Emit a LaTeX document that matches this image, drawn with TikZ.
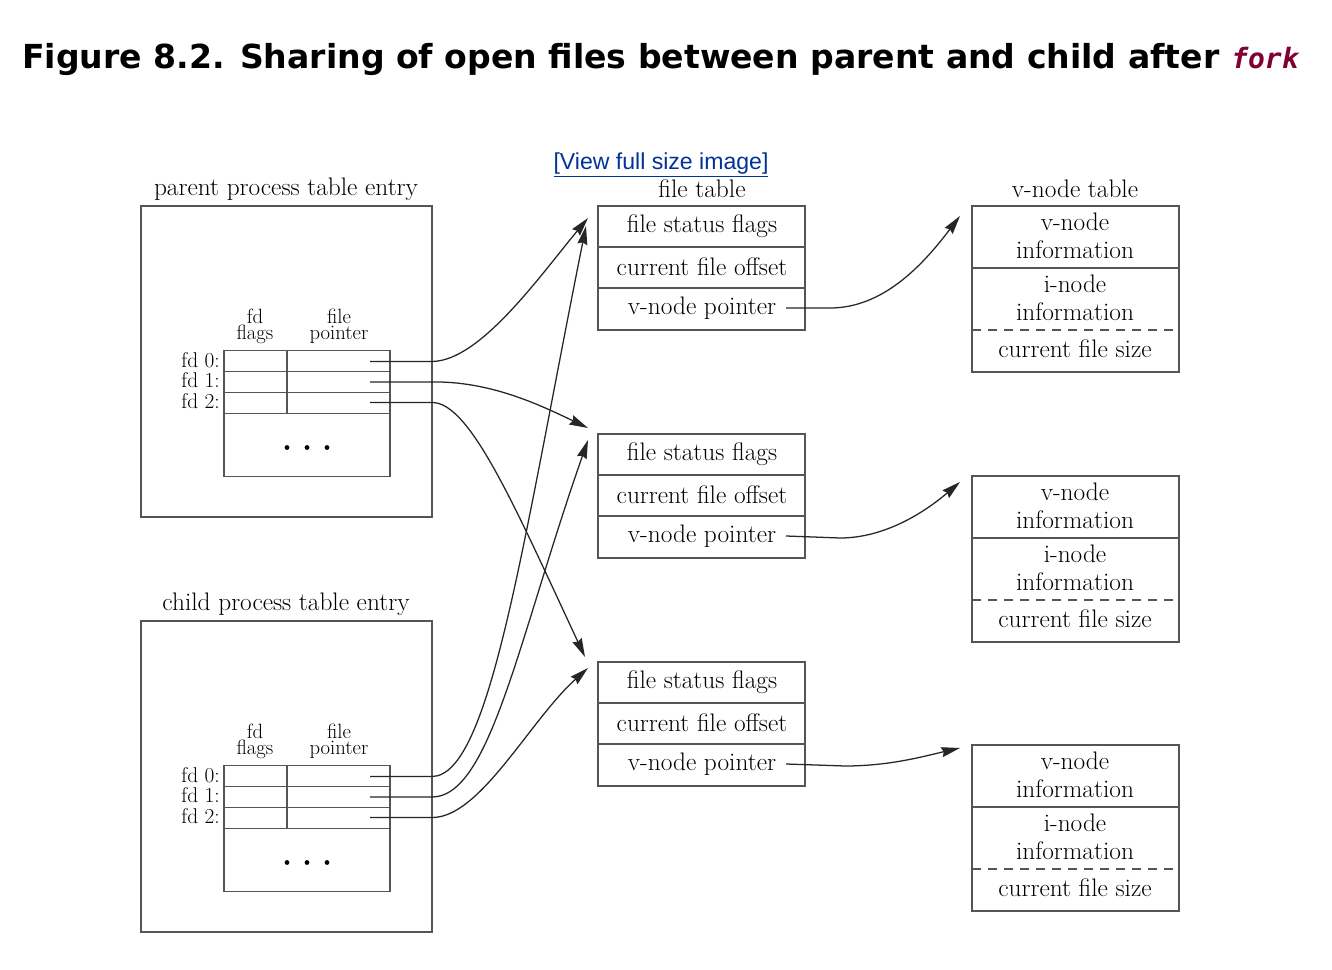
\documentclass[tikz,border=0pt]{standalone}
\usepackage{fontspec}
\newfontfamily\titlefont{DejaVu Sans}
\newfontfamily\forkfont{DejaVu Sans Mono}
\newfontfamily\linkfont{Liberation Sans}
\usetikzlibrary{arrows.meta}
\definecolor{forkred}{RGB}{128,0,51}
\definecolor{linkblue}{RGB}{0,51,153}
\definecolor{ln}{RGB}{85,85,85}
\tikzset{
  box/.style={draw=ln, line width=1.4pt},
  txt/.style={font=\fontsize{19}{21}\selectfont, inner sep=0pt, align=center},
  hdr/.style={font=\fontsize{15.5}{11}\selectfont, inner sep=0pt, anchor=base},
  fdl/.style={font=\fontsize{16}{11}\selectfont, inner sep=0pt, anchor=base east},
  ptr/.style={draw=black!85, line width=0.95pt, -{Stealth[length=14pt,width=7.5pt,inset=1.5pt]}}
}
\newcommand\ftable[2]{%
  \draw[box] (598,#2) rectangle (805,#2+124);
  \draw[box] (598,#2+41) -- (805,#2+41);
  \draw[box] (598,#2+82) -- (805,#2+82);
  \node[txt] (#1a) at (702,#2+20) {file status flags};
  \node[txt] (#1b) at (702,#2+61) {current file offset};
  \node[txt] (#1c) at (702,#2+102) {v-node pointer};
  \coordinate (#1s) at (786,#2+102);
}
\newcommand\vtable[2]{%
  \draw[box] (972,#2) rectangle (1179,#2+166);
  \draw[box] (972,#2+62) -- (1179,#2+62);
  \draw[box,dash pattern=on 7pt off 5pt] (972,#2+124) -- (1179,#2+124);
  \node[txt] (#1a) at (1075,#2+30) {v-node\\information};
  \node[txt] (#1b) at (1075,#2+92) {i-node\\information};
  \node[txt] (#1c) at (1075,#2+143) {current file size};
}
\newcommand\proctable[3]{%
  \draw[box] (141,#2) rectangle (432,#2+311);
  \node[txt] (#1lab) at (286,#2-17) {#3};
  \pgfmathsetmacro\tt{#2+144.5}
  \draw[box] (224,\tt) rectangle (390,\tt+126);
  \draw[box] (224,\tt+21) -- (390,\tt+21);
  \draw[box] (224,\tt+42) -- (390,\tt+42);
  \draw[box] (224,\tt+63) -- (390,\tt+63);
  \draw[box] (287,\tt) -- (287,\tt+63);
  \foreach \dx in {287,307,327} \fill (\dx,\tt+97) circle (2.4);
  \node[hdr] (#1hf1) at (255,\tt-27.5) {fd};
  \node[hdr] (#1hf2) at (255,\tt-11) {flags};
  \node[hdr] (#1hp1) at (339,\tt-27.5) {file};
  \node[hdr] (#1hp2) at (339,\tt-11) {pointer};
  \node[fdl] (#1l0) at (220,\tt+16.5) {fd 0:};
  \node[fdl] (#1l1) at (220,\tt+37) {fd 1:};
  \node[fdl] (#1l2) at (220,\tt+57.5) {fd 2:};
  \coordinate (#1s0) at (370,\tt+11);
  \coordinate (#1s1) at (370,\tt+31.5);
  \coordinate (#1s2) at (370,\tt+52);
  \coordinate (#1e0) at (432,\tt+11);
  \coordinate (#1e1) at (432,\tt+31.5);
  \coordinate (#1e2) at (432,\tt+52);
}
\begin{document}
\begin{tikzpicture}[x=0.75pt,y=-0.75pt]
\useasboundingbox (0,0) rectangle (1332,970);
\fill[white] (0,0) rectangle (1332,970);
% title
\node[anchor=base west, inner sep=0pt, font=\titlefont\bfseries\fontsize{24.8}{28}\selectfont] (title) at (22,69)
  {Figure 8.2. Sharing of open files between parent and child after};
\node[anchor=base west, inner sep=0pt, font=\forkfont\bfseries\itshape\fontsize{21}{24}\selectfont, text=forkred] (fork) at (1231,69) {fork};
% link
\node[inner sep=0pt, font=\linkfont\fontsize{17.3}{20}\selectfont, text=linkblue] (link) at (661,165) {\underline{[View full size image]}};
% column labels
\node[txt] (ftlab) at (702,189) {file table};
\node[txt] (vtlab) at (1075,189) {v-node table};
% process tables
\proctable{P}{206}{parent process table entry}
\proctable{C}{621}{child process table entry}
% file tables
\ftable{F1}{206}
\ftable{F2}{434}
\ftable{F3}{662}
% v-node tables
\vtable{V1}{206}
\vtable{V2}{476}
\vtable{V3}{745}
% arrow targets
\coordinate (tA) at (588,218);
\coordinate (tB) at (586,226);
\coordinate (tC) at (588,428);
\coordinate (tD) at (588,440);
\coordinate (tE) at (585,657);
\coordinate (tF) at (588,668);
\coordinate (tV1) at (960,216);
\coordinate (tV2) at (960,482);
\coordinate (tV3) at (960,748);
% parent pointers
\draw[ptr] (Ps0) -- (Pe0) .. controls (480,361) and (539,277) .. (tA);
\draw[ptr] (Ps1) -- (Pe1) .. controls (490,381) and (540,405) .. (tC);
\draw[ptr] (Ps2) -- (Pe2) .. controls (470,402) and (515,507) .. (tE);
% child pointers
\draw[ptr] (Cs0) -- (Ce0) .. controls (490,776) and (522,546) .. (tB);
\draw[ptr] (Cs1) -- (Ce1) .. controls (490,797) and (518,640) .. (tD);
\draw[ptr] (Cs2) -- (Ce2) .. controls (480,818) and (530,720) .. (tF);
% v-node pointers
\draw[ptr] (F1s) -- (830,308) .. controls (885,308) and (925,262) .. (tV1);
\draw[ptr] (F2s) -- (840,538) .. controls (885,538) and (925,512) .. (tV2);
\draw[ptr] (F3s) -- (845,766) .. controls (890,766) and (925,756) .. (tV3);
\end{tikzpicture}
\end{document}
